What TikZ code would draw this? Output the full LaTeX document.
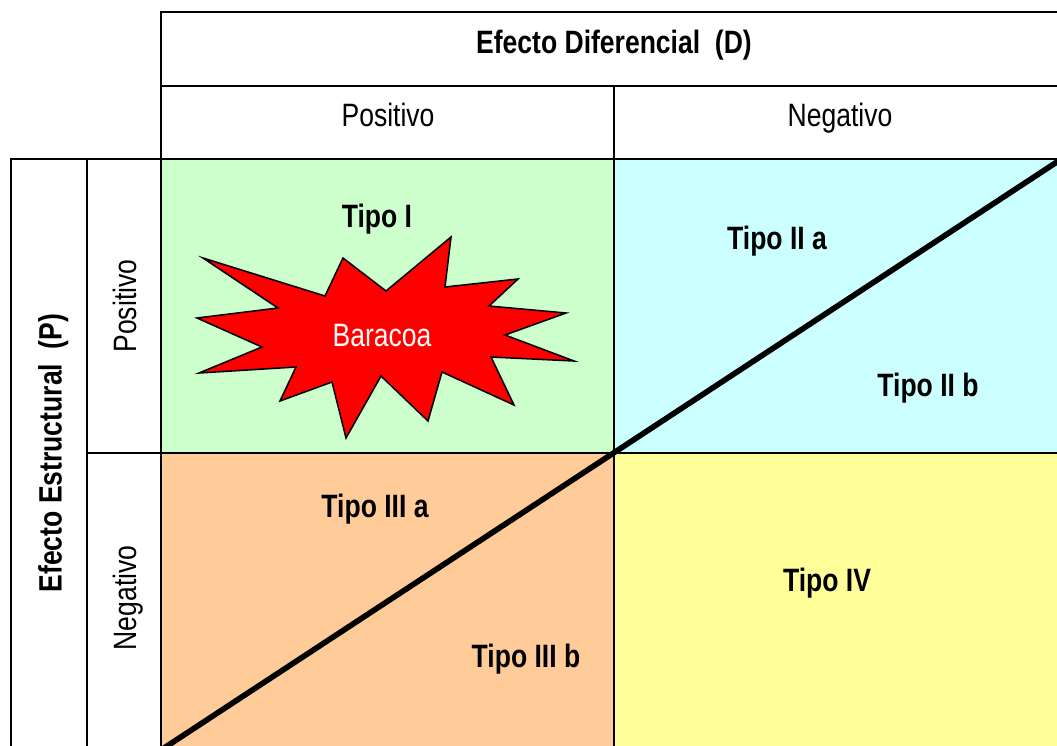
\documentclass[tikz,border=0pt]{standalone}
\usepackage{fontspec}
\setmainfont{Liberation Sans}[FakeStretch=0.82]
\usetikzlibrary{positioning}
\definecolor{cgreen}{HTML}{CCFFCC}
\definecolor{ccyan}{HTML}{CCFFFF}
\definecolor{corange}{HTML}{FFCC99}
\definecolor{cyellow}{HTML}{FFFF99}
\tikzset{
  grid/.style={draw=black, line width=1.4pt},
  split/.style={draw=black, line width=4pt},
  head/.style={font=\fontsize{23}{27}\selectfont, text height=16.5pt, text depth=0pt},
  headbold/.style={head, font=\fontsize{23}{27}\selectfont\bfseries},
  tipo/.style={head, font=\fontsize{23}{27}\selectfont\bfseries},
  burst/.style={draw=black, fill=red, line width=1.1pt, line join=miter},
}

\begin{document}
\begin{tikzpicture}[x=0.025cm, y=-0.025cm]
  \useasboundingbox (0,0) rectangle (1057,745);
  \clip (0,0) rectangle (1057,745);
  % quadrant fills
  \fill[cgreen] (161,159) rectangle (614,453);
  \fill[ccyan] (614,159) rectangle (1066,453);
  \fill[corange] (161,453) rectangle (614,760);
  \fill[cyellow] (614,453) rectangle (1066,760);
  % table lines
  \draw[grid] (161,760) -- (161,12) -- (1066,12) -- (1066,760);
  \draw[grid] (161,86) -- (1066,86);
  \draw[grid] (11,760) -- (11,159) -- (1066,159);
  \draw[grid] (87,159) -- (87,760);
  \draw[grid] (87,453) -- (1066,453);
  \draw[grid] (614,86) -- (614,760);
  % diagonal
  \coordinate (lo) at (161,750);
  \coordinate (hi) at (1066,156);
  \draw[split] (lo) -- (hi);
  % headers
  \node[headbold] (dif) at (614,42) {Efecto Diferencial~~(D)};
  \node[head] (dpos) at (388,115) {Positivo};
  \node[head] (dneg) at (840,115) {Negativo};
  \node[headbold, rotate=90] (est) at (50,453) {Efecto Estructural~~(P)};
  \node[head, rotate=90] (ppos) at (125,306) {Positivo};
  \node[head, rotate=90] (pneg) at (125,598) {Negativo};
  % types
  \node[tipo] (t1) at (377,216) {Tipo I};
  \node[tipo] (t2a) at (777,238) {Tipo II a};
  \node[tipo] (t2b) at (928,385) {Tipo II b};
  \node[tipo] (t3a) at (375,506) {Tipo III a};
  \node[tipo] (t3b) at (526,656) {Tipo III b};
  \node[tipo] (t4) at (827,580) {Tipo IV};
  % star
  \draw[burst] (203,258) -- (325,296) -- (343,258) -- (386,291) -- (451,237) -- (445,287)
    -- (518,279) -- (489,306) -- (566,313) -- (505,335) -- (574,361) -- (491,357)
    -- (514,405) -- (442,372) -- (428,421) -- (381,376) -- (346,438) -- (332,382)
    -- (280,401) -- (296,367) -- (199,373) -- (262,347) -- (197,318) -- (278,308) -- cycle;
  \node[head, text=white] (bar) at (382,335) {Baracoa};
\end{tikzpicture}
\end{document}
